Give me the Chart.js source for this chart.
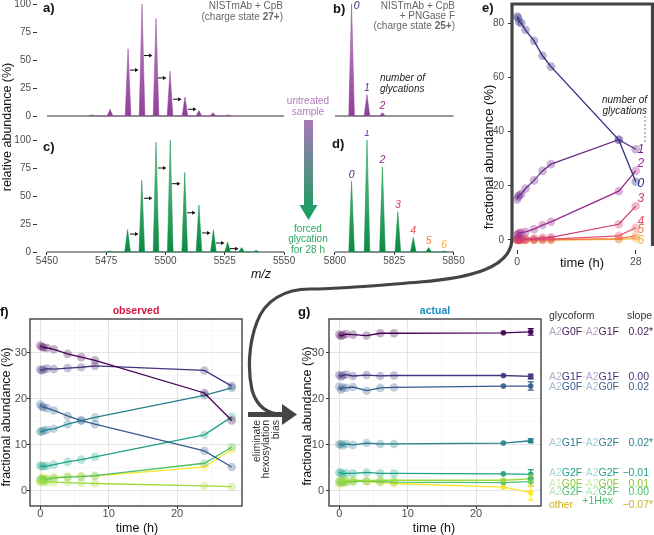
<!DOCTYPE html>
<html>
<head>
<meta charset="utf-8">
<script src="https://cdn.jsdelivr.net/npm/chart.js@4.4.1/dist/chart.umd.min.js"></script>
<style>
body { margin: 0; background: #fff; }
#fig { position: relative; width: 654px; height: 535px; overflow: hidden; font-family: "Liberation Sans", Arial, sans-serif; }
#fig canvas { position: absolute; }
.t { position: absolute; white-space: nowrap; line-height: 1; transform: translateY(-50%); }
.c { transform: translate(-50%, -50%); text-align: center; }
.r { transform: translate(-100%, -50%); text-align: right; }
.v { transform: translate(-50%, -50%) rotate(-90deg); }
.p { font-weight: bold; font-size: 13px; color: #111; }
.ax { font-size: 12.5px; color: #111; }
.s { font-size: 10px; color: #666; }
.lt { opacity: .42; }
</style>
</head>
<body>
<div id="fig">
  <canvas id="ca" width="300" height="125" style="left:0;top:0"></canvas>
  <canvas id="cc" width="300" height="150" style="left:0;top:130px"></canvas>
  <canvas id="cb" width="170" height="125" style="left:300px;top:0"></canvas>
  <canvas id="cd" width="170" height="150" style="left:300px;top:130px"></canvas>
  <canvas id="ce" width="184" height="280" style="left:470px;top:0"></canvas>
  <canvas id="cf" width="248" height="245" style="left:0;top:290px"></canvas>
  <canvas id="cg" width="256" height="245" style="left:290px;top:290px"></canvas>

  <svg width="654" height="535" style="position:absolute;left:0;top:0">
    <defs>
      <linearGradient id="gg" x1="0" y1="0" x2="0" y2="1">
        <stop offset="0" stop-color="#a977b8"/>
        <stop offset="1" stop-color="#11a05a"/>
      </linearGradient>
    </defs>
    <path d="M304 120 H313 V205 H317.5 L308.5 220 L299.5 205 H304 Z" fill="url(#gg)"/>
    <path d="M652.5 246 V4 H512 V238 C512 268 470 278 420 282 C370 286 340 289 310 289 C285 289 265 300 257 322 C248 345 248 372 252 390 C257 408 268 414 282 414.5"
          fill="none" stroke="#444" stroke-width="3.2"/>
    <path d="M248 414.5 H285" stroke="#444" stroke-width="5"/>
    <polygon points="282,404 297,414.5 282,425" fill="#444"/>
    <line x1="645" y1="116" x2="645" y2="143" stroke="#555" stroke-width="0.8" stroke-dasharray="2,2"/>
  </svg>

  <div class="t p" style="left:43px;top:7px">a)</div>
  <div class="t p" style="left:333px;top:8px">b)</div>
  <div class="t p" style="left:43px;top:146px">c)</div>
  <div class="t p" style="left:332px;top:143px">d)</div>
  <div class="t p" style="left:482px;top:7px">e)</div>
  <div class="t p" style="left:0;top:311px">f)</div>
  <div class="t p" style="left:298px;top:311px">g)</div>

  <div class="t r s" style="left:283px;top:10.5px;line-height:11px">NISTmAb + CpB<br>(charge state <b>27+</b>)</div>
  <div class="t r s" style="left:455px;top:15.7px;line-height:10.3px">NISTmAb + CpB<br>+ PNGase F<br>(charge state <b>25+</b>)</div>
  <div class="t" style="left:380px;top:83px;line-height:10.5px;font-size:10px;font-style:italic;color:#222">number of<br>glycations</div>
  <div class="t c" style="left:308px;top:105.5px;line-height:11px;font-size:10px;color:#b07cc0">untreated<br>sample</div>
  <div class="t c" style="left:308px;top:239.5px;line-height:10.5px;font-size:10px;color:#2aa660">forced<br>glycation<br>for 28 h</div>

  <div class="t v ax" style="left:7px;top:127px">relative abundance (%)</div>
  <div class="t c ax" style="left:261px;top:274px;font-style:italic">m/z</div>

  <div class="t v ax" style="left:488px;top:157px;font-size:13px">fractional abundance (%)</div>
  <div class="t c ax" style="left:582px;top:262px;font-size:13px">time (h)</div>
  <div class="t r" style="left:647px;top:104.5px;line-height:11px;font-size:10px;font-style:italic;color:#222">number of<br>glycations</div>

  <div class="t c" style="left:136px;top:310px;font-size:10.5px;font-weight:bold;color:#d4163f">observed</div>
  <div class="t c" style="left:435px;top:310px;font-size:10.5px;font-weight:bold;color:#1b8ec0">actual</div>
  <div class="t v ax" style="left:6px;top:417px">fractional abundance (%)</div>
  <div class="t v ax" style="left:307px;top:416px">fractional abundance (%)</div>
  <div class="t c ax" style="left:137px;top:528px">time (h)</div>
  <div class="t c ax" style="left:434px;top:528px">time (h)</div>

  <div style="position:absolute;left:252px;top:490px;width:70px;height:28px;transform-origin:0 0;transform:rotate(-90deg);text-align:right;font-size:10.5px;line-height:9.3px;color:#333">eliminate<br>hexosylation<br>bias</div>

  <div class="t" style="left:549px;top:315px;font-size:10.5px;color:#333">glycoform</div>
  <div class="t" style="left:627px;top:315px;font-size:10.5px;color:#333">slope</div>
  <div id="legend"></div>
</div>

<script>
// ---------- panel a-d: mass spectra ----------
const mzA = [5469.0, 5476.6, 5484.2, 5490.1, 5496.0, 5501.9, 5508.2, 5514.1, 5520.0, 5526.4];
const abA = [1, 6, 60, 100, 87, 40, 17, 5, 3, 1];
const mzC = [5476.6, 5484.0, 5490.0, 5496.0, 5502.0, 5508.1, 5514.1, 5520.2, 5526.2, 5532.1, 5538.2];
const abC = [1, 20, 64, 98, 100, 71, 42, 20, 9, 4, 1.5];
const mzB = [5807.0, 5813.5, 5820.0];
const abB = [100, 19, 3];
const mzD = [5807.0, 5813.5, 5820.0, 5826.5, 5833.0, 5839.5, 5846.0];
const abD = [63, 100, 76, 36, 13, 4, 0.8];

// shift arrows (start m/z, height %)
const shiftAx = [5485.0, 5490.9, 5496.8, 5503.2, 5509.5];
const shiftAy = [41, 54, 34, 15, 6];
const shiftCx = [5485.0, 5490.9, 5496.8, 5502.7, 5509.1, 5515.4, 5521.3, 5527.2];
const shiftCy = [16, 48, 75, 61, 35, 17, 8, 3];

const mzTicksLeft = [5450, 5475, 5500, 5525, 5550];
const mzTicksRight = [5800, 5825, 5850];
const abTicks = [0, 25, 50, 75, 100];

// ---------- panel e: glycation over time ----------
const hours = [0, 0.25, 0.5, 1, 2, 4, 6, 8, 24, 28];
const glycNames = ['0', '1', '2', '3', '4', '5', '6'];
const glyc0 = [82.5, 82.0, 80.5, 80.0, 77.5, 73.5, 68.0, 64.0, 37.0, 21.5];
const glyc1 = [15.0, 16.0, 16.5, 17.0, 19.0, 22.0, 25.5, 28.0, 37.0, 33.5];
const glyc2 = [1.8, 2.3, 2.5, 2.7, 3.0, 4.0, 5.5, 6.7, 18.0, 25.5];
const glyc3 = [0.3, 0.3, 0.3, 0.4, 0.4, 0.5, 0.8, 1.0, 5.8, 12.5];
const glyc4 = [0.1, 0.1, 0.1, 0.1, 0.1, 0.2, 0.2, 0.3, 1.5, 4.5];
const glyc5 = [0, 0, 0, 0, 0, 0, 0.1, 0.1, 0.5, 1.5];
const glyc6 = [0, 0, 0, 0, 0, 0, 0, 0, 0.2, 0.5];
const glycLabelY = [20.7, 33.2, 28.0, 15.1, 6.6, 3.7, -0.4];
const hourTicksE = [0, 28];
const fracTicksE = [0, 20, 40, 60, 80];

// ---------- panels f/g: glycoforms ----------
const forms = ['A2G0F·A2G1F', 'A2G1F·A2G1F', 'A2G0F·A2G0F', 'A2G1F·A2G2F', 'A2G2F·A2G2F', 'A1G0F·A2G0F', 'A2G2F·A2G2F', 'other'];
const slopes = ['0.02*', '0.00', '0.02', '0.02*', '\u22120.01', '0.01', '0.00', '\u22120.07*'];
const obs1 = [31.6, 31.3, 31.2, 31.1, 30.8, 29.8, 29.1, 28.4, 21.3, 15.3];
const obs2 = [26.4, 26.2, 26.4, 26.6, 26.5, 26.7, 26.9, 27.2, 26.2, 22.8];
const obs3 = [18.8, 18.3, 18.2, 18.0, 17.5, 16.3, 15.3, 14.5, 8.7, 5.2];
const obs4 = [12.9, 12.9, 13.1, 13.3, 13.5, 14.5, 15.3, 16.0, 20.8, 22.4];
const obs5 = [5.5, 5.3, 5.4, 5.4, 5.7, 6.3, 6.8, 7.4, 12.2, 16.1];
const obs6 = [2.1, 2.0, 1.9, 1.9, 1.9, 1.8, 1.7, 1.6, 1.1, 0.9];
const obs7 = [2.5, 2.6, 2.4, 2.5, 2.8, 3.0, 3.1, 3.3, 6.0, 9.5];
const obs8 = [2.0, 3.0, 2.8, 2.7, 3.0, 3.1, 3.2, 3.2, 5.2, 9.0];
const act1 = [34.0, 33.7, 33.9, 34.1, 34.0, 33.8, 34.3, 34.3, 34.4, 34.6];
const act2 = [25.2, 24.9, 25.1, 25.3, 25.0, 25.2, 25.0, 25.1, 25.1, 24.9];
const act3 = [22.7, 22.0, 22.5, 22.4, 22.6, 21.8, 22.4, 22.5, 22.8, 22.8];
const act4 = [10.1, 10.2, 9.9, 10.2, 10.0, 10.4, 10.2, 10.2, 10.4, 10.9];
const act5 = [4.0, 3.9, 3.7, 3.8, 3.8, 4.0, 3.8, 3.8, 3.7, 3.6];
const act6 = [2.2, 2.1, 2.0, 2.2, 2.3, 2.2, 2.3, 2.3, 2.3, 2.6];
const act7 = [1.9, 1.8, 1.8, 1.9, 2.0, 2.1, 2.0, 1.9, 1.8, 2.0];
const act8 = [1.3, 2.4, 2.0, 1.8, 2.1, 2.0, 1.8, 1.6, 0.8, -0.4];
const act28Err = [0.7, 0.5, 0.9, 0.4, 1.0, 0.8, 0.9, 1.6];
const timeTicks = [0, 10, 20];
const fracTicks = [0, 10, 20, 30];

// ---------- styling ----------
const TICK = '#4d4d4d', AX = '#333';
const glycColors = ['#2e2c7e', '#6a2b8e', '#9a2a8e', '#cd3c78', '#ea5064', '#f47d42', '#f6ae3a'];
const formColors = ['#440154', '#46337e', '#365c8d', '#277f8e', '#1fa187', '#9fda3a', '#4ac16d', '#fde725'];
const formText = ['#4a1a5c', '#46337e', '#365c8d', '#277f8e', '#1fa187', '#8cc63a', '#4ac16d', '#cbb21f'];
const legendRowY = [331, 376, 386, 442, 472, 483, 491, 504];

Chart.defaults.font.family = '"Liberation Sans", Arial, sans-serif';

const rgba = (hex, a) => {
  const n = parseInt(hex.slice(1), 16);
  return `rgba(${n >> 16},${(n >> 8) & 255},${n & 255},${a})`;
};
const fitY = w => s => { s.width = w; s.paddingTop = 0; s.paddingBottom = 0; };
const fitX = h => s => { s.height = h; s.paddingLeft = 0; s.paddingRight = 0; };
const setTicks = arr => s => { s.ticks = arr.map(v => ({ value: v })); };
const plain = v => String(v);

function grad(dark, light) {
  return c => {
    const a = c.chart.chartArea;
    if (!a) return dark;
    const g = c.chart.ctx.createLinearGradient(0, a.bottom, 0, a.top);
    g.addColorStop(0, dark);
    g.addColorStop(1, light);
    return g;
  };
}

const HALF = 1.2;
function peakTrace(mz, ab) {
  const pts = [];
  mz.forEach((m, i) => pts.push({ x: m - HALF, y: 0 }, { x: m, y: ab[i] }, { x: m + HALF, y: 0 }));
  return pts;
}

function arrowsPlugin(xs, ys) {
  return {
    id: 'shifts',
    afterDatasetsDraw(chart) {
      const { ctx, scales: { x, y } } = chart;
      ctx.save();
      ctx.strokeStyle = '#111'; ctx.fillStyle = '#111'; ctx.lineWidth = 1;
      xs.forEach((v, i) => {
        const x0 = x.getPixelForValue(v), x1 = x.getPixelForValue(v + 3.6), yy = y.getPixelForValue(ys[i]);
        ctx.beginPath(); ctx.moveTo(x0, yy); ctx.lineTo(x1 - 2, yy); ctx.stroke();
        ctx.beginPath(); ctx.moveTo(x1, yy); ctx.lineTo(x1 - 3.5, yy - 2); ctx.lineTo(x1 - 3.5, yy + 2); ctx.closePath(); ctx.fill();
      });
      ctx.restore();
    }
  };
}

function marksPlugin(items) {
  return {
    id: 'marks',
    afterDatasetsDraw(chart) {
      const { ctx, scales: { x, y } } = chart;
      ctx.save();
      ctx.textAlign = 'center'; ctx.textBaseline = 'middle';
      items.forEach(m => {
        ctx.font = m.font; ctx.fillStyle = m.color;
        ctx.fillText(m.text, x.getPixelForValue(m.x) + (m.dx || 0), y.getPixelForValue(m.y) + (m.dy || 0));
      });
      ctx.restore();
    }
  };
}

const framePlugin = {
  id: 'frame',
  afterDraw(chart) {
    const { ctx, chartArea: a } = chart;
    ctx.save();
    ctx.strokeStyle = AX; ctx.lineWidth = 1.3;
    ctx.strokeRect(a.left, a.top, a.right - a.left, a.bottom - a.top);
    ctx.restore();
  }
};

function errPlugin(series, errs, colors, t) {
  return {
    id: 'errs',
    afterDatasetsDraw(chart) {
      const { ctx, scales: { x, y } } = chart;
      const px = x.getPixelForValue(t);
      ctx.save();
      ctx.lineWidth = 1.3;
      series.forEach((s, i) => {
        const v = s[s.length - 1];
        const y1 = y.getPixelForValue(v + errs[i]), y2 = y.getPixelForValue(v - errs[i]);
        ctx.strokeStyle = colors[i];
        ctx.beginPath();
        ctx.moveTo(px, y1); ctx.lineTo(px, y2);
        ctx.moveTo(px - 3, y1); ctx.lineTo(px + 3, y1);
        ctx.moveTo(px - 3, y2); ctx.lineTo(px + 3, y2);
        ctx.stroke();
      });
      ctx.restore();
    }
  };
}

const base = {
  responsive: false, animation: false, events: [],
  plugins: { legend: { display: false }, tooltip: { enabled: false } }
};

function specChart(id, cfg) {
  const datasets = [
    { data: peakTrace(cfg.mz, cfg.ab), fill: 'origin', backgroundColor: grad(cfg.dark, cfg.light),
      borderColor: cfg.dark, borderWidth: 0.5, pointRadius: 0, tension: 0, clip: false },
    { data: [{ x: cfg.lo, y: 0 }, { x: cfg.hi, y: 0 }], borderColor: AX, borderWidth: 1.1,
      pointRadius: 0, fill: false, clip: false }
  ];
  return new Chart(document.getElementById(id), {
    type: 'line',
    data: { datasets },
    options: Object.assign({}, base, {
      layout: { padding: { left: 0, top: cfg.top, right: cfg.right, bottom: 0 } },
      scales: {
        x: { type: 'linear', min: cfg.xmin, max: cfg.xmax, afterBuildTicks: setTicks(cfg.xticks),
             ticks: { display: cfg.showX, color: TICK, font: { size: 10 }, padding: 0, maxRotation: 0,
                      autoSkip: false, callback: plain },
             grid: { display: cfg.showX, drawOnChartArea: false, tickLength: 3, tickColor: AX },
             border: { display: false }, afterFit: fitX(cfg.xh) },
        y: { type: 'linear', min: 0, max: 100, afterBuildTicks: setTicks(abTicks),
             ticks: { display: cfg.showY, color: TICK, font: { size: 10 }, padding: 2, callback: plain },
             grid: { display: cfg.showY, drawOnChartArea: false, tickLength: 4, tickColor: AX },
             border: { display: false }, afterFit: fitY(cfg.yw) }
      }
    }),
    plugins: cfg.plugins
  });
}

const PURPLE = ['#8f3f98', '#c996d1'], GREEN = ['#0b8a43', '#6fcd98'];
const leftX = { xmin: 5445.8, xmax: 5552.5, lo: 5450, hi: 5550, xticks: mzTicksLeft, yw: 37, right: 10 };
const rightX = { xmin: 5795.8, xmax: 5852.7, lo: 5800, hi: 5850, xticks: mzTicksRight, yw: 25, right: 10 };
const lblFont = 'italic 10.5px "Liberation Sans", Arial, sans-serif';

specChart('ca', Object.assign({}, leftX, { mz: mzA, ab: abA, dark: PURPLE[0], light: PURPLE[1],
  top: 4, xh: 9, showX: false, showY: true, plugins: [arrowsPlugin(shiftAx, shiftAy)] }));
specChart('cc', Object.assign({}, leftX, { mz: mzC, ab: abC, dark: GREEN[0], light: GREEN[1],
  top: 10, xh: 28, showX: true, showY: true, plugins: [arrowsPlugin(shiftCx, shiftCy)] }));
specChart('cb', Object.assign({}, rightX, { mz: mzB, ab: abB, dark: PURPLE[0], light: PURPLE[1],
  top: 4, xh: 9, showX: false, showY: false,
  plugins: [marksPlugin(mzB.map((m, i) => ({ x: m, y: abB[i], text: glycNames[i], color: glycColors[i],
    font: lblFont, dx: i === 0 ? 5 : 0, dy: i === 0 ? 2 : -6.5 })))] }));
specChart('cd', Object.assign({}, rightX, { mz: mzD, ab: abD, dark: GREEN[0], light: GREEN[1],
  top: 10, xh: 28, showX: true, showY: false,
  plugins: [marksPlugin(mzD.map((m, i) => ({ x: m, y: abD[i], text: glycNames[i], color: glycColors[i],
    font: lblFont, dy: -6.5 })))] }));

// ---------- e ----------
const glycSeries = [glyc0, glyc1, glyc2, glyc3, glyc4, glyc5, glyc6];
new Chart(document.getElementById('ce'), {
  type: 'line',
  data: {
    datasets: glycSeries.map((s, i) => ({
      data: hours.map((t, j) => ({ x: t, y: s[j] })),
      borderColor: glycColors[i], borderWidth: 1.3, tension: 0,
      pointRadius: 4.3, pointBorderWidth: 0, pointBackgroundColor: rgba(glycColors[i], 0.35)
    }))
  },
  options: Object.assign({}, base, {
    layout: { padding: { left: 0, top: 4, right: 2, bottom: 0 } },
    scales: {
      x: { type: 'linear', min: -1.2, max: 31.3, afterBuildTicks: setTicks(hourTicksE),
           ticks: { color: TICK, font: { size: 10.5 }, padding: 2, maxRotation: 0, autoSkip: false, callback: plain },
           grid: { drawOnChartArea: false, tickLength: 4, tickColor: AX },
           border: { display: false }, afterFit: fitX(30) },
      y: { type: 'linear', min: -3.7, max: 87, afterBuildTicks: setTicks(fracTicksE),
           ticks: { color: TICK, font: { size: 10 }, padding: 4, callback: plain },
           grid: { drawOnChartArea: false, tickLength: 4, tickColor: AX },
           border: { display: false }, afterFit: fitY(42) }
    }
  }),
  plugins: [marksPlugin(glycLabelY.map((v, i) => ({ x: 29.2, y: v, text: glycNames[i], color: glycColors[i],
    font: 'italic 12px "Liberation Sans", Arial, sans-serif' })))]
});

// ---------- f / g ----------
const isMajor = c => c.tick && c.tick.value % 10 === 0;
function trendChart(id, series, cfg) {
  const minorX = timeTicks.map(v => v + 5);
  const minorY = fracTicks.map(v => v + 5);
  return new Chart(document.getElementById(id), {
    type: 'line',
    data: {
      datasets: series.map((s, i) => ({
        data: hours.map((t, j) => ({ x: t, y: s[j] })),
        borderColor: formColors[i], borderWidth: 1.3, tension: 0, pointBorderWidth: 0,
        pointRadius: c => (cfg.solidEnd && c.dataIndex >= 8) ? 2.8 : 4.3,
        pointBackgroundColor: c => (cfg.solidEnd && c.dataIndex >= 8) ? rgba(formColors[i], 0.9) : rgba(formColors[i], 0.3)
      }))
    },
    options: Object.assign({}, base, {
      layout: { padding: { left: 0, top: 29, right: cfg.right, bottom: 0 } },
      scales: {
        x: { type: 'linear', min: -1.5, max: 29.5,
             afterBuildTicks: setTicks(timeTicks.concat(minorX).sort((a, b) => a - b)),
             ticks: { color: TICK, font: { size: 11 }, padding: -2, maxRotation: 0, autoSkip: false,
                      callback: v => v % 10 === 0 ? String(v) : '' },
             grid: { color: c => isMajor(c) ? '#e4e4e4' : '#f2f2f2', lineWidth: c => isMajor(c) ? 1 : 0.6,
                     tickColor: c => isMajor(c) ? AX : 'rgba(0,0,0,0)', tickLength: 3 },
             border: { display: false }, afterFit: fitX(29) },
        y: { type: 'linear', min: -3.3, max: 37.4,
             afterBuildTicks: setTicks(fracTicks.concat(minorY).sort((a, b) => a - b)),
             ticks: { color: TICK, font: { size: 11 }, padding: cfg.ypad,
                      callback: v => v % 10 === 0 ? String(v) : '' },
             grid: { color: c => isMajor(c) ? '#e4e4e4' : '#f2f2f2', lineWidth: c => isMajor(c) ? 1 : 0.6,
                     tickColor: c => isMajor(c) ? AX : 'rgba(0,0,0,0)', tickLength: 3 },
             border: { display: false }, afterFit: fitY(cfg.yw) }
      }
    }),
    plugins: cfg.plugins
  });
}

const obsSeries = [obs1, obs2, obs3, obs4, obs5, obs6, obs7, obs8];
const actSeries = [act1, act2, act3, act4, act5, act6, act7, act8];
trendChart('cf', obsSeries, { right: 6, yw: 30, ypad: 0, solidEnd: false, plugins: [framePlugin] });
trendChart('cg', actSeries, { right: 5, yw: 39, ypad: 2, solidEnd: true,
  plugins: [framePlugin, errPlugin(actSeries, act28Err, formColors, 28)] });

// ---------- legend of g ----------
const legend = document.getElementById('legend');
function glycoHTML(name) {
  if (name === 'other') return name;
  return name.replace(/(A\d)/g, '<span class="lt">$1</span>').replace('·', '<span class="lt">·</span>');
}
forms.forEach((f, i) => {
  const y = legendRowY[i];
  const num = slopes[i].replace('*', '');
  const star = slopes[i].endsWith('*') ? '*' : '';
  legend.insertAdjacentHTML('beforeend',
    `<div class="t" style="left:549px;top:${y}px;font-size:10.5px;color:${formText[i]}">${glycoHTML(f)}</div>` +
    `<div class="t r" style="left:649px;top:${y}px;font-size:10.5px;color:${formText[i]}">${num}</div>` +
    (star ? `<div class="t" style="left:649px;top:${y}px;font-size:10.5px;color:${formText[i]}">*</div>` : ''));
});
legend.insertAdjacentHTML('beforeend',
  `<div class="t r" style="left:613px;top:499.5px;font-size:10.5px;color:${formText[6]}">+1Hex</div>`);
</script>
</body>
</html>
